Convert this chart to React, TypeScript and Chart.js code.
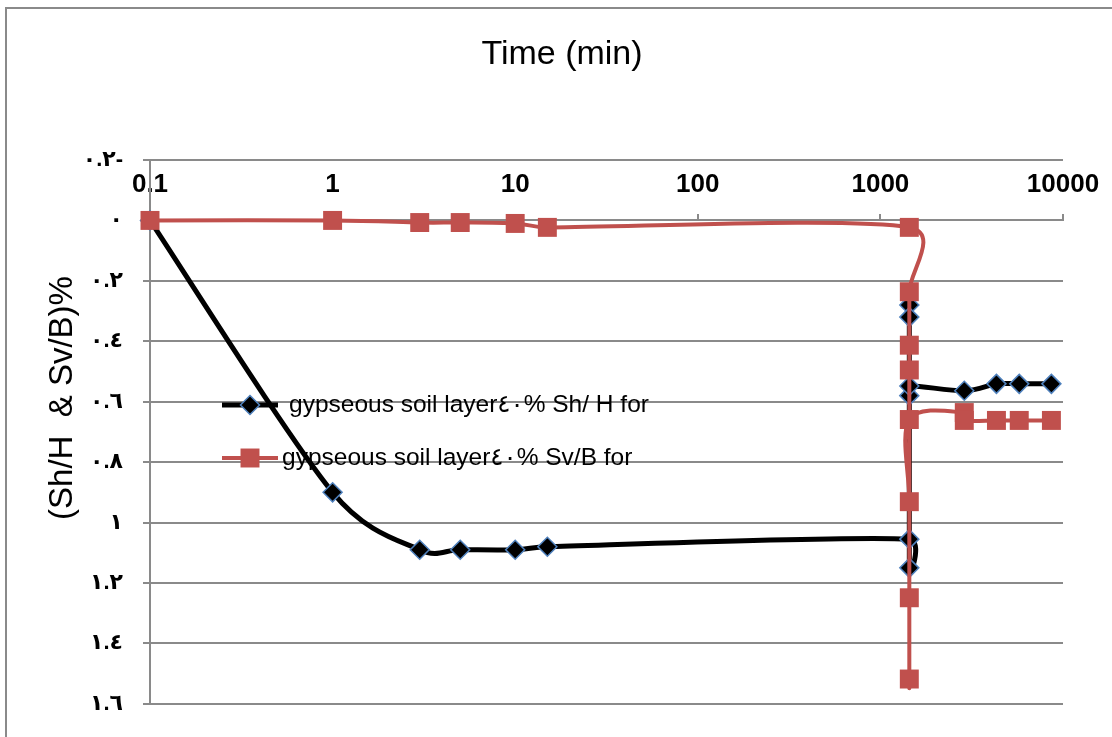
import React, { useEffect, useRef } from "react";
import { Chart, registerables } from "chart.js";

Chart.register(...registerables);

const chartTitle = "Time (min)";
const yAxisTitle = "(Sh/H  & Sv/B)%";

const xTickValues = [0.1, 1, 10, 100, 1000, 10000];
const xTickLabels = ["0.1", "1", "10", "100", "1000", "10000"];
const yTickValues = [-0.2, 0, 0.2, 0.4, 0.6, 0.8, 1, 1.2, 1.4, 1.6];
const yTickLabels = ["٠.٢-", "٠", "٠.٢", "٠.٤", "٠.٦", "٠.٨", "١", "١.٢", "١.٤", "١.٦"];

const shLabel = "gypseous soil layer٤٠% Sh/ H for";
const shTime = [0.1, 1, 3, 5, 10, 15, 1440, 1440, 1440, 1440, 1440, 1440, 2880, 4320, 5760, 8640];
const shValue = [0, 0.9, 1.09, 1.09, 1.09, 1.08, 1.055, 1.15, 0.28, 0.32, 0.58, 0.548, 0.564, 0.541, 0.541, 0.541];

const svLabel = "gypseous soil layer٤٠% Sv/B for";
const svTime = [0.1, 1, 3, 5, 10, 15, 1440, 1440, 1440, 1440, 1440, 1440, 1440, 1440, 2880, 2880, 4320, 5760, 8640];
const svValue = [0, 0, 0.007, 0.007, 0.01, 0.023, 0.023, 0.236, 0.413, 0.495, 1.518, 1.249, 0.931, 0.659, 0.636, 0.662, 0.662, 0.662, 0.662];

const FONT = "'Liberation Sans', 'DejaVu Sans', Arial, sans-serif";
const GRID = "#8a8a8a";
const RED = "#C0504D";
const BLUE = "#4F81BD";

// Spreadsheet-style smoothing: Catmull-Rom tangents (1/6 of neighbour chord),
// limited to half the adjacent segment length.
const smoothPlugin = {
  id: "sheetSmooth",
  beforeDatasetsDraw(chart: any) {
    chart.data.datasets.forEach((_ds: any, di: number) => {
      const meta = chart.getDatasetMeta(di);
      const line = meta.dataset;
      const pts = meta.data;
      if (!line || !pts || !pts.length) return;
      if (typeof line.updateControlPoints === "function") {
        line.updateControlPoints(chart.chartArea, meta.indexAxis);
      }
      const n = pts.length;
      for (let i = 0; i < n; i++) {
        const p1 = pts[i];
        const p0 = pts[i - 1] || p1;
        const p2 = pts[i + 1] || p1;
        const cx = p2.x - p0.x;
        const cy = p2.y - p0.y;
        const len = Math.hypot(cx, cy);
        if (len === 0) {
          p1.cp1x = p1.x; p1.cp1y = p1.y; p1.cp2x = p1.x; p1.cp2y = p1.y;
          continue;
        }
        const d01 = Math.hypot(p1.x - p0.x, p1.y - p0.y);
        const d12 = Math.hypot(p2.x - p1.x, p2.y - p1.y);
        const fa = Math.min(1 / 6, d01 / (2 * len));
        const fb = Math.min(1 / 6, d12 / (2 * len));
        p1.cp1x = p1.x - cx * fa;
        p1.cp1y = p1.y - cy * fa;
        p1.cp2x = p1.x + cx * fb;
        p1.cp2y = p1.y + cy * fb;
      }
      line._pointsUpdated = true;
      line._path = undefined;
    });
  },
};

const yTitlePlugin = {
  id: "yTitleText",
  afterDraw(chart: any) {
    const { ctx, chartArea } = chart;
    ctx.save();
    ctx.translate(63, chartArea.top + 238);
    ctx.rotate(-Math.PI / 2);
    ctx.font = `33px ${FONT}`;
    ctx.fillStyle = "#000";
    ctx.textAlign = "center";
    ctx.textBaseline = "middle";
    ctx.fillText(yAxisTitle, 0, 0);
    ctx.restore();
  },
};

const insideLegendPlugin = {
  id: "insideLegend",
  afterDraw(chart: any) {
    const { ctx, chartArea } = chart;
    const rows = [
      { ds: 0, y: chartArea.top + 245, textX: chartArea.left + 139 },
      { ds: 1, y: chartArea.top + 298, textX: chartArea.left + 132 },
    ];
    const x0 = chartArea.left + 72;
    const x1 = chartArea.left + 128;
    const cx = (x0 + x1) / 2;
    ctx.save();
    rows.forEach((r) => {
      const ds = chart.data.datasets[r.ds];
      ctx.beginPath();
      ctx.strokeStyle = ds.borderColor;
      ctx.lineWidth = ds.borderWidth;
      ctx.moveTo(x0, r.y);
      ctx.lineTo(x1, r.y);
      ctx.stroke();
      if (ds.pointStyle === "rectRot") {
        const rad = ds.pointRadius;
        ctx.beginPath();
        ctx.moveTo(cx, r.y - rad);
        ctx.lineTo(cx + rad, r.y);
        ctx.lineTo(cx, r.y + rad);
        ctx.lineTo(cx - rad, r.y);
        ctx.closePath();
        ctx.fillStyle = ds.pointBackgroundColor;
        ctx.fill();
        ctx.lineWidth = ds.pointBorderWidth;
        ctx.strokeStyle = ds.pointBorderColor;
        ctx.stroke();
      } else {
        const s = ds.pointRadius * Math.SQRT1_2;
        ctx.fillStyle = ds.pointBackgroundColor;
        ctx.fillRect(cx - s, r.y - s, 2 * s, 2 * s);
      }
      ctx.font = `24.5px ${FONT}`;
      ctx.fillStyle = "#000";
      ctx.textAlign = "left";
      ctx.textBaseline = "middle";
      ctx.fillText(ds.label, r.textX, r.y);
    });
    ctx.restore();
  },
};

export default function App() {
  const canvasRef = useRef<HTMLCanvasElement | null>(null);

  useEffect(() => {
    if (!canvasRef.current) return;
    const chart = new Chart(canvasRef.current, {
      type: "line",
      data: {
        datasets: [
          {
            label: shLabel,
            data: shTime.map((t, i) => ({ x: t, y: shValue[i] })),
            borderColor: "#000000",
            backgroundColor: "#000000",
            borderWidth: 5,
            borderJoinStyle: "round",
            pointStyle: "rectRot",
            pointRadius: 9.5,
            pointHoverRadius: 9.5,
            pointBackgroundColor: "#000000",
            pointBorderColor: BLUE,
            pointBorderWidth: 1.5,
            tension: 0.4,
            clip: false,
            order: 1,
          } as any,
          {
            label: svLabel,
            data: svTime.map((t, i) => ({ x: t, y: svValue[i] })),
            borderColor: RED,
            backgroundColor: RED,
            borderWidth: 4,
            borderJoinStyle: "round",
            pointStyle: "rect",
            pointRadius: 13.4,
            pointHoverRadius: 13.4,
            pointBackgroundColor: RED,
            pointBorderColor: RED,
            pointBorderWidth: 0,
            tension: 0.4,
            clip: false,
            order: 0,
          } as any,
        ],
      },
      options: {
        responsive: false,
        animation: false,
        events: [],
        layout: { padding: { left: 61, right: 49, top: 0, bottom: 29 } },
        plugins: {
          legend: { display: false },
          tooltip: { enabled: false },
          title: {
            display: true,
            text: chartTitle,
            color: "#000",
            font: { family: FONT, size: 34, weight: "normal" },
            padding: { top: 34, bottom: 85.2 },
          },
        },
        scales: {
          x: {
            type: "logarithmic",
            position: { y: 0 } as any,
            min: 0.1,
            max: 10000,
            afterBuildTicks: (scale: any) => {
              scale.ticks = xTickValues.map((v) => ({ value: v }));
            },
            afterFit: (scale: any) => {
              scale.height = 0;
              scale.paddingLeft = 0;
              scale.paddingRight = 0;
            },
            ticks: {
              autoSkip: false,
              maxRotation: 0,
              padding: -44,
              color: "#000",
              font: { family: FONT, size: 26, weight: "bold" },
              callback: (_v: any, i: number) => xTickLabels[i],
            },
            grid: {
              drawOnChartArea: false,
              drawTicks: true,
              tickLength: -7,
              color: GRID,
              lineWidth: 2,
            },
            border: { display: true, color: GRID, width: 2 },
          } as any,
          y: {
            type: "linear",
            reverse: true,
            min: -0.2,
            max: 1.6,
            afterBuildTicks: (scale: any) => {
              scale.ticks = yTickValues.map((v) => ({ value: v }));
            },
            afterFit: (scale: any) => {
              scale.width = 89;
            },
            ticks: {
              padding: 20,
              color: "#000",
              font: { family: FONT, size: 22, weight: "bold" },
              callback: (_v: any, i: number) => yTickLabels[i],
            },
            grid: {
              drawOnChartArea: true,
              drawTicks: true,
              tickLength: 7,
              color: GRID,
              lineWidth: 2,
            },
            border: { display: true, color: GRID, width: 2 },
          } as any,
        },
      },
      plugins: [smoothPlugin, yTitlePlugin, insideLegendPlugin],
    });
    return () => chart.destroy();
  }, []);

  return (
    <div
      style={{
        position: "fixed",
        left: 0,
        top: 0,
        width: 1112,
        height: 737,
        overflow: "hidden",
        background: "#ffffff",
      }}
    >
      <div
        style={{
          position: "absolute",
          left: 5,
          top: 7,
          width: 1300,
          height: 900,
          border: "2px solid #8a8a8a",
        }}
      />
      <canvas
        ref={canvasRef}
        width={1112}
        height={737}
        style={{ position: "absolute", left: 0, top: 0, width: 1112, height: 737 }}
      />
    </div>
  );
}
